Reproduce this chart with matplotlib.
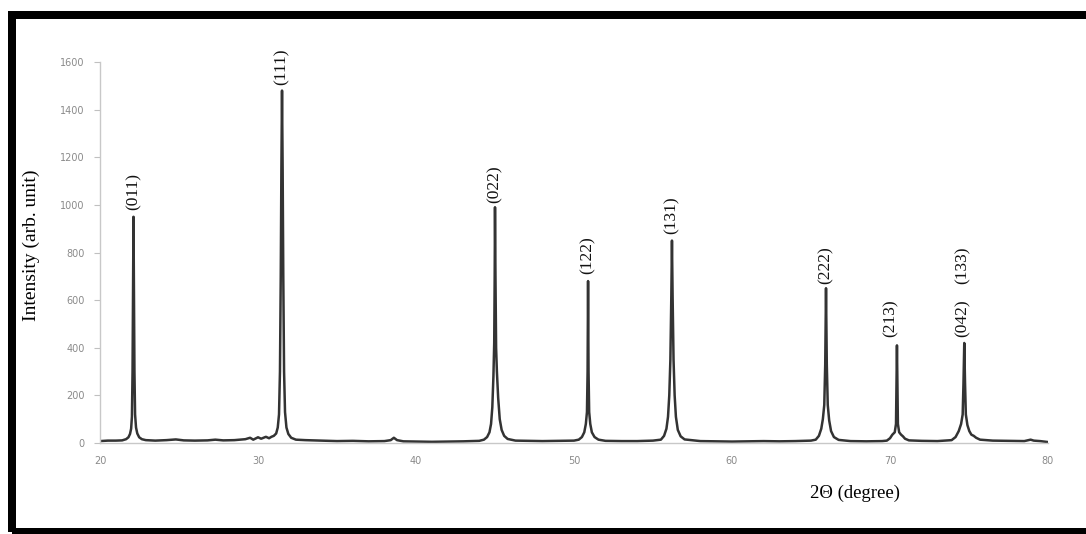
import matplotlib
matplotlib.use("Agg")
import matplotlib.pyplot as plt
from matplotlib.patches import Rectangle

# XRD pattern: 2theta (degree) and intensity (arb. unit)
two_theta = [
    20, 20.5, 21, 21.4, 21.65, 21.8, 21.9, 21.97, 22.02, 22.06, 22.09, 22.12, 22.15, 22.18, 22.22, 22.28, 22.36, 22.48, 22.65, 22.9,
    23.5, 24.2, 24.8, 25.3, 26, 26.8, 27.3, 27.8, 28.5, 29.2, 29.5, 29.7, 30.0, 30.2, 30.5, 30.7, 30.85,
    31.0, 31.15, 31.25, 31.33, 31.39, 31.44, 31.48, 31.52, 31.56, 31.6, 31.65, 31.71, 31.8, 31.92, 32.1, 32.4,
    33, 34, 35, 36, 37, 38, 38.4, 38.6, 38.8, 39.2, 40, 41, 42, 43, 44,
    44.3, 44.5, 44.65, 44.75, 44.83, 44.9, 44.95, 44.98, 45.0, 45.03, 45.07, 45.12, 45.2, 45.3, 45.42, 45.58, 45.8, 46.3,
    47, 48, 49, 50, 50.3, 50.5, 50.65, 50.75, 50.82, 50.86, 50.89, 50.92, 50.96, 51.03, 51.13, 51.3, 51.55,
    52, 53, 54, 55, 55.5, 55.7, 55.85, 55.95, 56.03, 56.1, 56.16, 56.2, 56.24, 56.3, 56.37, 56.45, 56.57, 56.75, 57.0,
    58, 59, 60, 61, 62, 63, 64, 65, 65.3, 65.5, 65.65, 65.75, 65.84, 65.9, 65.95, 66.0, 66.06, 66.15, 66.27, 66.45, 66.75,
    67.5, 68.5, 69.5, 69.8, 70.0, 70.15, 70.3, 70.38, 70.44, 70.5, 70.58, 70.7, 70.82, 70.95, 71.2,
    72, 73, 73.9, 74.15, 74.35, 74.5, 74.6, 74.65, 74.7, 74.75, 74.8, 74.9, 75.02, 75.15, 75.3, 75.45, 75.7,
    76.5, 77.5, 78.5, 78.9, 79.1, 79.5, 80,
]
intensity = [
    8, 10, 10, 11, 16, 24, 38, 60, 110, 300, 650, 950, 650, 300, 120, 65, 40, 24, 16, 12,
    10, 12, 15, 11, 10, 11, 14, 11, 12, 16, 22, 14, 24, 18, 26, 20, 26,
    30, 40, 65, 120, 300, 700, 1150, 1480, 1150, 700, 300, 130, 65, 38, 22, 14,
    12, 10, 8, 9, 7, 8, 12, 22, 12, 7, 6, 5, 6, 7, 9,
    14, 25, 45, 80, 150, 280, 420, 700, 990, 700, 400, 300, 190, 100, 55, 30, 17, 10,
    9, 8, 9, 10, 14, 25, 45, 80, 130, 300, 680, 300, 130, 80, 45, 25, 14,
    9, 8, 8, 10, 14, 30, 60, 110, 200, 350, 620, 850, 620, 350, 200, 110, 55, 28, 15,
    8, 7, 6, 7, 8, 7, 8, 10, 14, 30, 60, 100, 160, 330, 650, 330, 160, 95, 50, 25, 13,
    8, 7, 8, 10, 20, 35, 45, 80, 410, 80, 45, 35, 28, 18, 11,
    9, 8, 12, 25, 50, 80, 120, 250, 420, 250, 120, 75, 50, 35, 30, 22, 14,
    10, 9, 8, 14, 10, 8, 4,
]

# peak labels (Miller indices) and where they sit
hkl = ["(011)", "(111)", "(022)", "(122)", "(131)", "(222)", "(213)", "(042)", "(133)"]
hkl_x = [22.12, 31.52, 45.0, 50.89, 56.2, 65.95, 70.06, 74.62, 74.62]
hkl_y = [1055, 1580, 1085, 790, 958, 748, 525, 525, 748]

xticks = [20, 30, 40, 50, 60, 70, 80]
yticks = [0, 200, 400, 600, 800, 1000, 1200, 1400, 1600]

W, H = 1086, 534
fig = plt.figure(figsize=(W / 100, H / 100), dpi=100)
ax = fig.add_axes([100 / W, 1 - 443 / H, (1048 - 100) / W, (443 - 62) / H])

ax.plot(two_theta, intensity, color="#333333", lw=1.8, solid_joinstyle="round")

ax.set_xlim(20, 80)
ax.set_ylim(0, 1600)
ax.set_xticks(xticks)
ax.set_yticks(yticks)
ax.tick_params(axis="x", length=0, pad=9, labelsize=7, labelcolor="#8a8a8a")
ax.tick_params(axis="y", length=4, width=0.8, color="#c0c0c0", pad=7,
               labelsize=7, labelcolor="#8a8a8a")
for s in ["top", "right"]:
    ax.spines[s].set_visible(False)
for s in ["left", "bottom"]:
    ax.spines[s].set_color("#c8c8c8")
    ax.spines[s].set_linewidth(1.0)

for lab, x, y in zip(hkl, hkl_x, hkl_y):
    ax.text(x, y, lab, rotation=90, ha="center", va="center",
            family="Liberation Serif", fontsize=12.5, color="#111111", clip_on=False)

fig.text(31 / W, 1 - 245 / H, "Intensity (arb. unit)", rotation=90, ha="center", va="center",
         family="Liberation Serif", fontsize=14, color="black")
fig.text(855 / W, 1 - 493 / H, "2\u0398 (degree)", ha="center", va="center",
         family="Liberation Serif", fontsize=13.5, color="black")

# thick black frame round the picture (right side runs off the image)
frame = Rectangle((12 / W, 1 - 532 / H), (1110 - 12) / W, (532 - 15) / H,
                  transform=fig.transFigure, fill=False, edgecolor="black",
                  linewidth=8 * 72 / 100, clip_on=False)
fig.patches.append(frame)

fig.savefig("out.png", dpi=100)
